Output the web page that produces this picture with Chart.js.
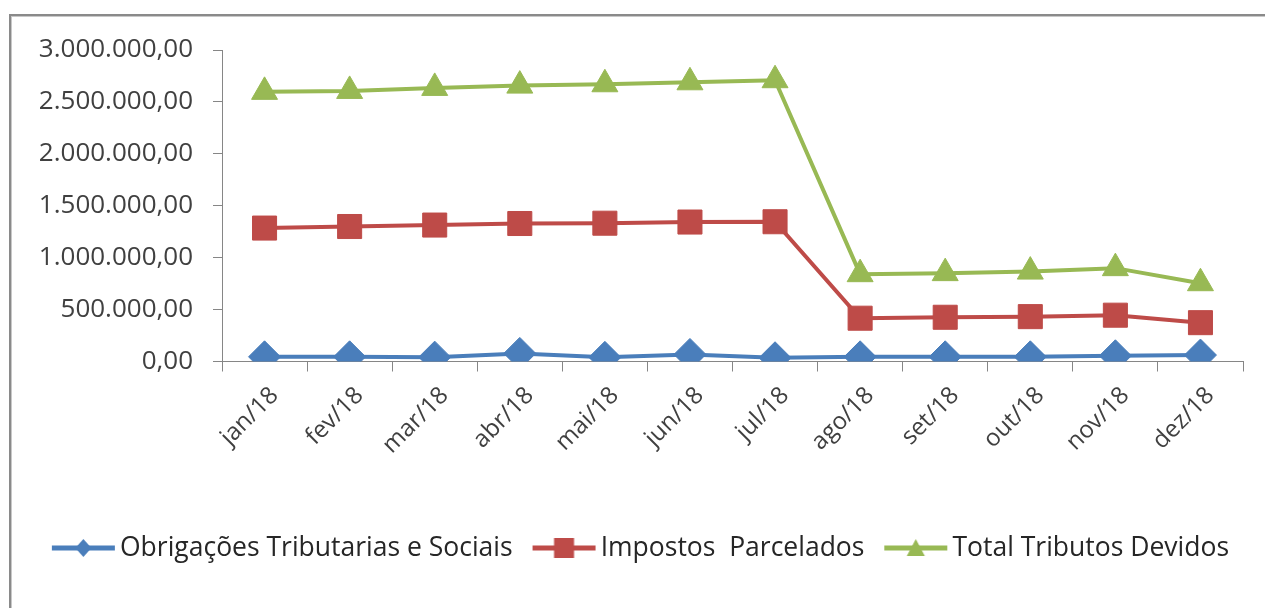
<!DOCTYPE html>
<html>
<head>
<meta charset="utf-8">
<script src="https://cdn.jsdelivr.net/npm/chart.js@4.4.1/dist/chart.umd.min.js"></script>
<style>
  html, body { margin: 0; padding: 0; background: #fff; width: 1265px; height: 608px; overflow: hidden; }
  #frame { position: absolute; left: 9px; top: 14px; width: 1400px; height: 800px;
           border-left: 2px solid #8a8a8a; border-top: 2px solid #8a8a8a;
           box-shadow: inset 1px 1px 0 #c8c8c8; }
  #wrap { position: absolute; left: 0; top: 0; width: 1265px; height: 608px; }
</style>
</head>
<body>
<div id="frame"></div>
<div id="wrap"><canvas id="c" width="1265" height="608"></canvas></div>
<script>
const months = ['jan/18','fev/18','mar/18','abr/18','mai/18','jun/18','jul/18','ago/18','set/18','out/18','nov/18','dez/18'];
const obrigacoes = [45000, 45000, 42000, 78000, 40000, 68000, 36000, 45000, 45000, 45000, 55000, 62000];
const impostos = [1285000, 1300000, 1314000, 1329000, 1332000, 1343000, 1346000, 417000, 426000, 432000, 446000, 374000];
const total = [2597000, 2606000, 2635000, 2657000, 2670000, 2689000, 2709000, 841000, 851000, 866000, 899000, 754000];
const seriesNames = ['Obrigações Tributarias e Sociais', 'Impostos  Parcelados', 'Total Tributos Devidos'];
const yMin = 0, yMax = 3000000, yStep = 500000;

const BLUE = '#4A7EBB', RED = '#BE4B48', GREEN = '#98B954';
const FONT = "'Open Sans', 'Liberation Sans', sans-serif";

function fmt(v) {
  const s = Math.round(v).toString().replace(/\B(?=(\d{3})+(?!\d))/g, '.');
  return s + ',00';
}

// legend icon: a line with the series marker; transparent margin on the left
function legendIcon(color, shape) {
  const c = document.createElement('canvas');
  c.width = 85; c.height = 26;
  const g = c.getContext('2d');
  const x0 = 21, x1 = 84, cx = (x0 + x1) / 2;
  g.strokeStyle = color; g.lineWidth = 5; g.lineCap = 'butt';
  g.beginPath(); g.moveTo(x0, 13); g.lineTo(x1, 13); g.stroke();
  g.fillStyle = color;
  g.beginPath();
  if (shape === 'diamond') {
    g.moveTo(cx, 4); g.lineTo(cx + 8, 13); g.lineTo(cx, 22); g.lineTo(cx - 8, 13); g.closePath();
  } else if (shape === 'square') {
    g.rect(cx - 10, 3, 20, 20);
  } else {
    g.moveTo(cx, 4); g.lineTo(cx + 9, 21); g.lineTo(cx - 9, 21); g.closePath();
  }
  g.fill();
  return c;
}
const icons = [legendIcon(BLUE, 'diamond'), legendIcon(RED, 'square'), legendIcon(GREEN, 'triangle')];

const ds = (label, data, color, style, r) => ({
  label, data, yAxisID: 'y',
  borderColor: color, backgroundColor: color,
  borderWidth: 4, tension: 0,
  pointStyle: style, pointRadius: r, pointHoverRadius: r,
  pointBackgroundColor: color, pointBorderColor: color, pointBorderWidth: 1
});

// place the legend row so that it starts where the reference legend starts
const legendShift = {
  id: 'legendShift',
  afterLayout(chart) {
    const lg = chart.legend;
    if (!lg || !lg.lineWidths) return;
    const pad = lg.options.labels.padding;
    const wantBoxStart = 40;
    lg.left = 2 * wantBoxStart - pad - lg.right + lg.lineWidths[0];
  }
};

new Chart(document.getElementById('c'), {
  type: 'line',
  data: {
    labels: months,
    datasets: [
      ds(seriesNames[0], obrigacoes, BLUE, 'rectRot', 16),
      ds(seriesNames[1], impostos, RED, 'rect', 17),
      ds(seriesNames[2], total, GREEN, 'triangle', 15)
    ]
  },
  plugins: [legendShift],
  options: {
    responsive: false,
    animation: false,
    events: [],
    layout: { padding: { left: 0, right: 0, top: 50, bottom: 36.75 } },
    scales: {
      x: {
        type: 'category',
        offset: true,
        grid: { display: true, drawOnChartArea: false, drawTicks: true, tickLength: 10, color: '#868686', offset: true },
        border: { display: true, color: '#868686', width: 1 },
        ticks: { font: { family: FONT, size: 24 }, color: '#404040', maxRotation: 45, minRotation: 45, autoSkip: false, padding: 10, labelOffset: 10 },
        afterFit: (s) => { s.height = 165.25; }
      },
      y: {
        position: 'left',
        min: yMin, max: yMax,
        grid: { display: true, drawOnChartArea: false, drawTicks: true, tickLength: 9, color: '#868686' },
        border: { display: true, color: '#868686', width: 1 },
        ticks: { stepSize: yStep, font: { family: FONT, size: 26 }, color: '#404040', padding: 20,
                 callback: (v) => fmt(v) },
        afterFit: (s) => { s.width = 222; }
      },
      yR: {
        position: 'right',
        display: true,
        grid: { display: false },
        border: { display: false },
        ticks: { display: false },
        afterFit: (s) => { s.width = 22; }
      }
    },
    plugins: {
      tooltip: { enabled: false },
      legend: {
        position: 'bottom',
        labels: {
          usePointStyle: true,
          pointStyleWidth: 66.75,
          boxHeight: 26.5,
          padding: 8,
          color: '#262626',
          font: { family: FONT, size: 26.5 },
          generateLabels: (chart) => chart.data.datasets.map((d, i) => ({
            text: d.label, fillStyle: d.borderColor, strokeStyle: d.borderColor,
            lineWidth: 0, pointStyle: icons[i], hidden: false, datasetIndex: i, fontColor: '#262626'
          }))
        }
      }
    }
  }
});
</script>
</body>
</html>
